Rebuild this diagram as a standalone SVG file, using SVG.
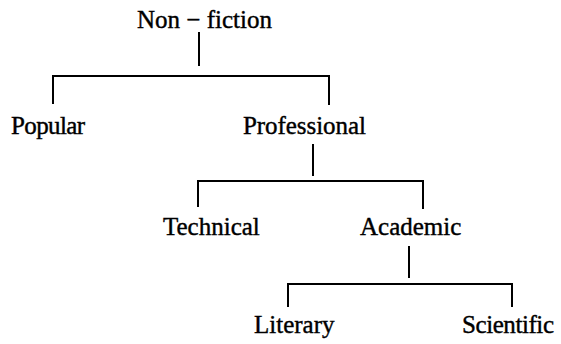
<svg xmlns="http://www.w3.org/2000/svg" width="561" height="344" viewBox="0 0 561 344">
<style>
text { font-family: "Liberation Serif", "Times New Roman", serif; font-size: 25px; fill: #000; stroke: #000; stroke-width: 0.4; }
.c line { stroke: #000; stroke-width: 2; stroke-linecap: square; }
</style>
<rect width="561" height="344" fill="#fff"/>
<g id="connectors" class="c">
<line x1="199" y1="33" x2="199" y2="65"/>
<line x1="53" y1="76" x2="329" y2="76"/>
<line x1="53" y1="76" x2="53" y2="103"/>
<line x1="329" y1="76" x2="329" y2="104"/>
<line x1="313" y1="145" x2="313" y2="175"/>
<line x1="198" y1="181" x2="423" y2="181"/>
<line x1="198" y1="181" x2="198" y2="206"/>
<line x1="423" y1="181" x2="423" y2="208"/>
<line x1="409" y1="247" x2="409" y2="277"/>
<line x1="288" y1="284" x2="512" y2="284"/>
<line x1="288" y1="284" x2="288" y2="306"/>
<line x1="512" y1="284" x2="512" y2="306"/>
</g>
<g id="nonfiction"><text x="137" y="28">Non − fiction</text></g>
<g id="popular"><text x="11" y="134" textLength="74">Popular</text></g>
<g id="professional"><text x="243" y="134" textLength="123">Professional</text></g>
<g id="technical"><text x="163" y="235">Technical</text></g>
<g id="academic"><text x="360" y="235">Academic</text></g>
<g id="literary"><text x="254" y="333">Literary</text></g>
<g id="scientific"><text x="462" y="333" textLength="92">Scientific</text></g>
</svg>
